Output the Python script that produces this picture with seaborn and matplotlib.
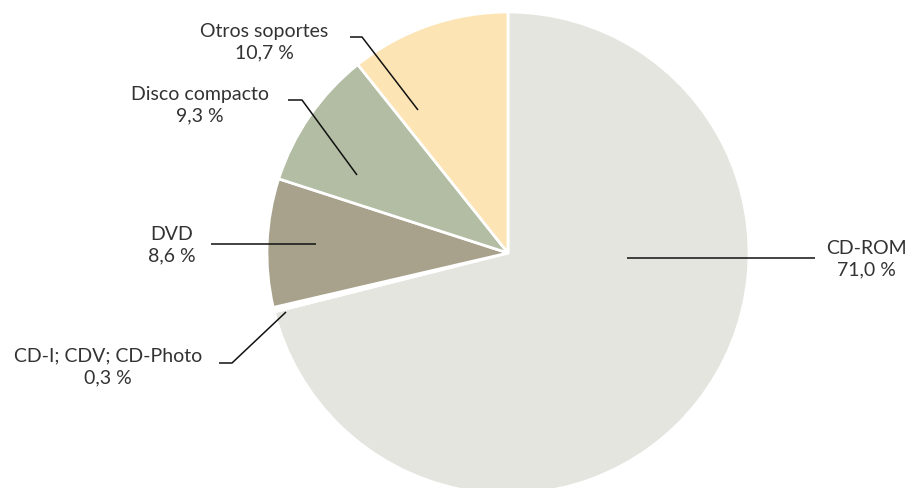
import numpy as np
import matplotlib
matplotlib.use('Agg')
import matplotlib.pyplot as plt
import seaborn as sns

# ── data ──────────────────────────────────────────────────────────────────────
labels = ['CD-ROM', 'CD-I; CDV; CD-Photo', 'DVD', 'Disco compacto', 'Otros soportes']
values = [71.0, 0.3, 8.6, 9.3, 10.7]
pct_text = ['71,0 %', '0,3 %', '8,6 %', '9,3 %', '10,7 %']
colors = ['#e3e5de', '#ffffff', '#a8a18b', '#b2bda3', '#fde4b4']

# label layout in pixel space (x, y from top): text centre, leader-line path
text_pos = [(866, 259), (108, 367), (172, 245), (200, 105), (264, 42)]
leaders = [
    [(815, 258), (627, 258)],
    [(219, 363), (232, 363), (286, 312)],
    [(211, 244), (316, 244)],
    [(288, 100), (302, 100), (357, 175)],
    [(350, 37), (362, 37), (418, 110)],
]

W, H = 911, 488
CENTER = (508, H - 253)
RADIUS = 241

sns.set_theme(style='white')
plt.rcParams['font.family'] = ['Lato', 'DejaVu Sans']

fig = plt.figure(figsize=(W / 100, H / 100), dpi=100)
ax = fig.add_axes([0, 0, 1, 1])

ax.pie(values, colors=colors, startangle=90, counterclock=False,
       center=CENTER, radius=RADIUS,
       wedgeprops={'edgecolor': 'white', 'linewidth': 2})

for path in leaders:
    xs = [p[0] for p in path]
    ys = [H - p[1] for p in path]
    ax.plot(xs, ys, color='#111111', lw=1.1, solid_capstyle='butt')

for lab, pct, (x, y) in zip(labels, pct_text, text_pos):
    ax.text(x, H - y, f'{lab}\n{pct}', ha='center', va='center',
            fontsize=14, fontweight='normal', color='#333333',
            linespacing=1.35)

ax.set_xlim(0, W)
ax.set_ylim(0, H)
ax.set_aspect('equal')
ax.axis('off')

fig.savefig('out.png', dpi=100)
